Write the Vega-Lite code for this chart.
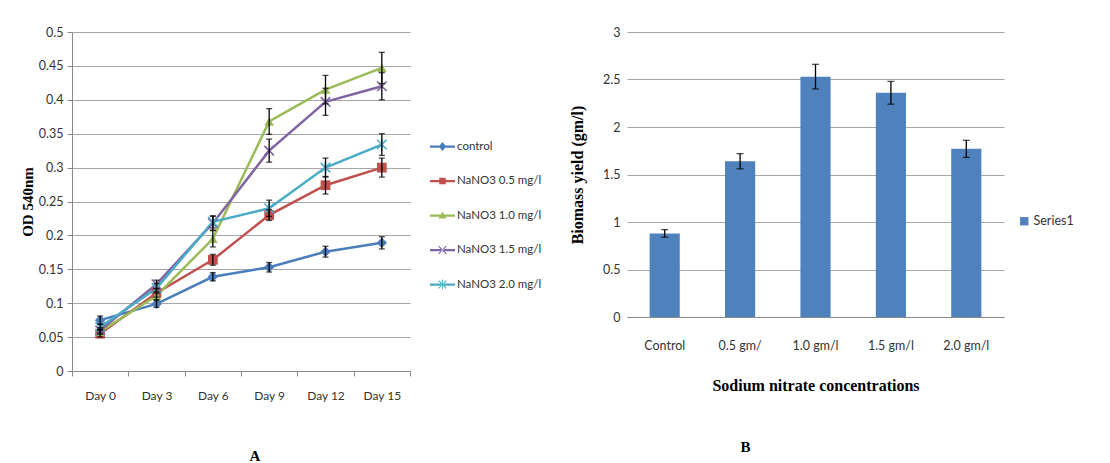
{
  "$schema": "https://vega.github.io/schema/vega-lite/v6.json",
  "background": "white",
  "padding": {"left": 20, "top": 26, "right": 0, "bottom": 0},
  "spacing": 27,
  "datasets": {
    "growth": [
      {"day": "Day 0", "series": "control", "od": 0.075, "err": 0.006},
      {"day": "Day 3", "series": "control", "od": 0.099, "err": 0.005},
      {"day": "Day 6", "series": "control", "od": 0.139, "err": 0.006},
      {"day": "Day 9", "series": "control", "od": 0.153, "err": 0.007},
      {"day": "Day 12", "series": "control", "od": 0.176, "err": 0.008},
      {"day": "Day 15", "series": "control", "od": 0.189, "err": 0.009},
      {"day": "Day 0", "series": "NaNO3 0.5 mg/l", "od": 0.055, "err": 0.005},
      {"day": "Day 3", "series": "NaNO3 0.5 mg/l", "od": 0.115, "err": 0.006},
      {"day": "Day 6", "series": "NaNO3 0.5 mg/l", "od": 0.164, "err": 0.008},
      {"day": "Day 9", "series": "NaNO3 0.5 mg/l", "od": 0.23, "err": 0.008},
      {"day": "Day 12", "series": "NaNO3 0.5 mg/l", "od": 0.274, "err": 0.013},
      {"day": "Day 15", "series": "NaNO3 0.5 mg/l", "od": 0.3, "err": 0.014},
      {"day": "Day 0", "series": "NaNO3 1.0 mg/l", "od": 0.058, "err": 0.004},
      {"day": "Day 3", "series": "NaNO3 1.0 mg/l", "od": 0.111, "err": 0.006},
      {"day": "Day 6", "series": "NaNO3 1.0 mg/l", "od": 0.195, "err": 0.012},
      {"day": "Day 9", "series": "NaNO3 1.0 mg/l", "od": 0.368, "err": 0.019},
      {"day": "Day 12", "series": "NaNO3 1.0 mg/l", "od": 0.415, "err": 0.021},
      {"day": "Day 15", "series": "NaNO3 1.0 mg/l", "od": 0.447, "err": 0.023},
      {"day": "Day 0", "series": "NaNO3 1.5 mg/l", "od": 0.06, "err": 0.004},
      {"day": "Day 3", "series": "NaNO3 1.5 mg/l", "od": 0.128, "err": 0.006},
      {"day": "Day 6", "series": "NaNO3 1.5 mg/l", "od": 0.218, "err": 0.01},
      {"day": "Day 9", "series": "NaNO3 1.5 mg/l", "od": 0.325, "err": 0.017},
      {"day": "Day 12", "series": "NaNO3 1.5 mg/l", "od": 0.397, "err": 0.02},
      {"day": "Day 15", "series": "NaNO3 1.5 mg/l", "od": 0.42, "err": 0.02},
      {"day": "Day 0", "series": "NaNO3 2.0 mg/l", "od": 0.065, "err": 0.004},
      {"day": "Day 3", "series": "NaNO3 2.0 mg/l", "od": 0.122, "err": 0.007},
      {"day": "Day 6", "series": "NaNO3 2.0 mg/l", "od": 0.22, "err": 0.009},
      {"day": "Day 9", "series": "NaNO3 2.0 mg/l", "od": 0.24, "err": 0.012},
      {"day": "Day 12", "series": "NaNO3 2.0 mg/l", "od": 0.3, "err": 0.014},
      {"day": "Day 15", "series": "NaNO3 2.0 mg/l", "od": 0.334, "err": 0.016}
    ],
    "biomass": [
      {"conc": "Control", "series": "Series1", "yield": 0.88, "err": 0.04},
      {"conc": "0.5 gm/", "series": "Series1", "yield": 1.64, "err": 0.08},
      {"conc": "1.0 gm/l", "series": "Series1", "yield": 2.53, "err": 0.13},
      {"conc": "1.5 gm/l", "series": "Series1", "yield": 2.36, "err": 0.12},
      {"conc": "2.0 gm/l", "series": "Series1", "yield": 1.77, "err": 0.09}
    ]
  },
  "config": {
    "view": {"stroke": null},
    "font": "Lato",
    "axis": {
      "labelFont": "Lato",
      "labelFontSize": 12.5,
      "labelColor": "#333333",
      "titleFont": "Liberation Serif",
      "titleFontWeight": "bold",
      "titleColor": "#000000",
      "domainColor": "#8a8a8a",
      "tickColor": "#8a8a8a",
      "gridColor": "#a6a6a6"
    },
    "legend": {"labelFont": "Lato", "labelColor": "#333333"}
  },
  "resolve": {"scale": {"color": "independent", "shape": "independent", "stroke": "independent", "y": "independent", "x": "independent"}, "legend": {"color": "independent", "shape": "independent"}},
  "hconcat": [
    {
      "width": 338,
      "height": 339,
      "title": {"text": "A", "orient": "bottom", "font": "Liberation Serif", "fontWeight": "bold", "fontSize": 15, "offset": 48, "dx": 14, "color": "#000000"},
      "data": {"name": "growth"},
      "encoding": {
        "x": {
          "field": "day", "type": "nominal",
          "sort": ["Day 0", "Day 3", "Day 6", "Day 9", "Day 12", "Day 15"],
          "scale": {"type": "band", "paddingInner": 0, "paddingOuter": 0},
          "axis": {"title": null, "labelAngle": 0, "tickBand": "extent", "tickSize": 5, "labelPadding": 14, "grid": false, "labelFontSize": 12}
        },
        "y": {
          "field": "od", "type": "quantitative",
          "scale": {"domain": [0, 0.5]},
          "axis": {"title": "OD 540nm", "values": [0, 0.05, 0.1, 0.15, 0.2, 0.25, 0.3, 0.35, 0.4, 0.45, 0.5], "format": "~g", "grid": true, "tickSize": 5, "labelPadding": 4, "titleFontSize": 15, "titlePadding": 3}
        }
      },
      "layer": [
        {
          "mark": {"type": "line", "strokeWidth": 2.5},
          "encoding": {
            "stroke": {"field": "series", "type": "nominal",
              "sort": ["control", "NaNO3 0.5 mg/l", "NaNO3 1.0 mg/l", "NaNO3 1.5 mg/l", "NaNO3 2.0 mg/l"],
              "scale": {"range": ["#4A7EBB", "#C0504D", "#9BBB59", "#8064A2", "#4BACC6"]},
              "legend": null}
          }
        },
        {
          "transform": [{"filter": "datum.series === 'control'"}],
          "mark": {"type": "point", "shape": "diamond", "filled": true, "size": 110, "color": "#4A7EBB", "opacity": 1}
        },
        {
          "transform": [{"filter": "datum.series === 'NaNO3 0.5 mg/l'"}],
          "mark": {"type": "point", "shape": "square", "filled": true, "size": 95, "color": "#C0504D", "opacity": 1}
        },
        {
          "transform": [{"filter": "datum.series === 'NaNO3 1.0 mg/l'"}],
          "mark": {"type": "point", "shape": "triangle-up", "filled": true, "size": 95, "color": "#9BBB59", "opacity": 1}
        },
        {
          "transform": [{"filter": "datum.series === 'NaNO3 1.5 mg/l'"}],
          "mark": {"type": "point", "shape": "M-1,-1L1,1M-1,1L1,-1", "filled": false, "size": 90, "strokeWidth": 1.6, "color": "#8064A2", "opacity": 1}
        },
        {
          "transform": [{"filter": "datum.series === 'NaNO3 2.0 mg/l'"}],
          "mark": {"type": "point", "shape": "M-1,-1L1,1M-1,1L1,-1M0,-1.3L0,1.3", "filled": false, "size": 90, "strokeWidth": 1.6, "color": "#4BACC6", "opacity": 1}
        },
        {
          "mark": {"type": "errorbar", "color": "black", "thickness": 1.3, "ticks": {"size": 6}},
          "encoding": {
            "y": {"field": "od", "type": "quantitative"},
            "yError": {"field": "err"}
          }
        },
        {
          "mark": {"type": "point", "filled": true, "size": 0, "opacity": 1},
          "encoding": {
            "color": {"field": "series", "type": "nominal",
              "scale": {"domain": ["control", "NaNO3 0.5 mg/l", "NaNO3 1.0 mg/l", "NaNO3 1.5 mg/l", "NaNO3 2.0 mg/l"], "range": ["#4A7EBB", "#C0504D", "#9BBB59", "#8064A2", "#4BACC6"]},
              "legend": {"orient": "none", "legendX": 358, "legendY": 102, "title": null, "symbolSize": 625, "symbolOpacity": 1, "symbolStrokeWidth": 0, "rowPadding": 16.5, "labelFontSize": 11.5, "labelOffset": 2}},
            "shape": {"field": "series", "type": "nominal",
              "scale": {"domain": ["control", "NaNO3 0.5 mg/l", "NaNO3 1.0 mg/l", "NaNO3 1.5 mg/l", "NaNO3 2.0 mg/l"],
                "range": [
                  "M-1,-0.09L1,-0.09L1,0.09L-1,0.09Z M0,-0.36L0.3,0L0,0.36L-0.3,0Z",
                  "M-1,-0.09L1,-0.09L1,0.09L-1,0.09Z M-0.26,-0.26L0.26,-0.26L0.26,0.26L-0.26,0.26Z",
                  "M-1,-0.09L1,-0.09L1,0.09L-1,0.09Z M0,-0.32L0.32,0.24L-0.32,0.24Z",
                  "M-1,-0.09L1,-0.09L1,0.09L-1,0.09Z M-0.34,-0.28L-0.28,-0.34L0.34,0.28L0.28,0.34Z M-0.34,0.28L-0.28,0.34L0.34,-0.28L0.28,-0.34Z",
                  "M-1,-0.09L1,-0.09L1,0.09L-1,0.09Z M-0.34,-0.28L-0.28,-0.34L0.34,0.28L0.28,0.34Z M-0.34,0.28L-0.28,0.34L0.34,-0.28L0.28,-0.34Z M-0.035,-0.4L0.035,-0.4L0.035,0.4L-0.035,0.4Z"
                ]},
              "legend": {"orient": "none", "legendX": 358, "legendY": 102, "title": null, "symbolSize": 625, "symbolOpacity": 1, "symbolStrokeWidth": 0, "rowPadding": 16.5, "labelFontSize": 11.5, "labelOffset": 2}}
          }
        }
      ]
    },
    {
      "width": 377,
      "height": 285,
      "title": {"text": "B", "orient": "bottom", "font": "Liberation Serif", "fontWeight": "bold", "fontSize": 15, "offset": 46, "dx": -70, "color": "#000000"},
      "data": {"name": "biomass"},
      "encoding": {
        "x": {
          "field": "conc", "type": "nominal",
          "sort": ["Control", "0.5 gm/", "1.0 gm/l", "1.5 gm/l", "2.0 gm/l"],
          "scale": {"paddingInner": 0.6, "paddingOuter": 0.3},
          "axis": {"title": "Sodium nitrate concentrations", "labelAngle": 0, "ticks": false, "labelPadding": 22, "titleFontSize": 16, "titlePadding": 26, "grid": false, "labelFontSize": 12.5}
        },
        "y": {
          "field": "yield", "type": "quantitative",
          "scale": {"domain": [0, 3]},
          "axis": {"title": "Biomass yield (gm/l)", "values": [0, 0.5, 1, 1.5, 2, 2.5, 3], "format": "~g", "grid": true, "domain": false, "ticks": false, "labelPadding": 7, "titleFontSize": 16, "titlePadding": 17}
        }
      },
      "layer": [
        {
          "mark": {"type": "bar"},
          "encoding": {
            "color": {"field": "series", "type": "nominal", "scale": {"range": ["#4F81BD"]},
              "legend": {"orient": "none", "legendX": 391, "legendY": 183, "title": null, "symbolType": "square", "symbolSize": 70, "symbolStrokeWidth": 0, "labelFontSize": 12.5, "labelOffset": 3}}
          }
        },
        {
          "mark": {"type": "errorbar", "color": "black", "thickness": 1.3, "ticks": {"size": 7}},
          "encoding": {
            "y": {"field": "yield", "type": "quantitative"},
            "yError": {"field": "err"}
          }
        }
      ]
    }
  ]
}
